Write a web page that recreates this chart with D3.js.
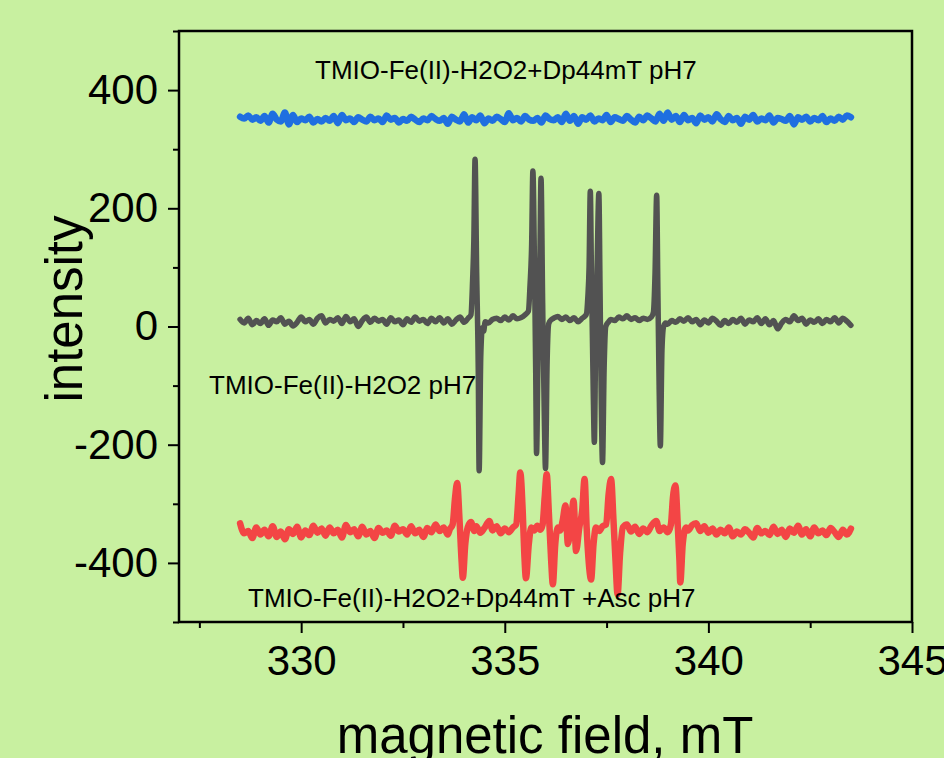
<!DOCTYPE html>
<html><head><meta charset="utf-8">
<script src="https://cdn.jsdelivr.net/npm/d3@7"></script>
<style>
html,body{margin:0;padding:0;background:#c8f0a0;}
svg{display:block;}
text{font-family:"Liberation Sans",Arial,sans-serif;fill:#000;}
</style></head><body>
<svg id="chart" width="944" height="758"></svg>
<script>
// ---- data ----
const xMajorTicks = [330, 335, 340, 345];
const xTickLabels = ["330", "335", "340", "345"];
const xMinorTicks = [327.5, 332.5, 337.5, 342.5];
const yMajorTicks = [-400, -200, 0, 200, 400];
const yTickLabels = ["-400", "-200", "0", "200", "400"];
const yMinorTicks = [-500, -300, -100, 100, 300, 500];

const seriesNames = ["TMIO-Fe(II)-H2O2+Dp44mT pH7", "TMIO-Fe(II)-H2O2 pH7", "TMIO-Fe(II)-H2O2+Dp44mT +Asc pH7"];

// [magnetic field mT, intensity]
const blueSeries = [
[328.5,355],[328.6,352],[328.7,357],[328.8,350],[328.9,354],[329.0,348],[329.1,356],[329.2,345],[329.3,360],[329.4,350],
[329.5,347],[329.6,362],[329.7,342],[329.8,358],[329.9,346],[330.0,352],[330.1,349],[330.2,355],[330.3,345],[330.4,351],
[330.5,347],[330.6,353],[330.7,348],[330.8,356],[330.9,344],[331.0,358],[331.1,349],[331.2,352],[331.3,346],[331.4,354],
[331.5,350],[331.6,347],[331.7,355],[331.8,349],[331.9,352],[332.0,346],[332.1,357],[332.2,350],[332.3,353],[332.4,345],
[332.5,351],[332.6,348],[332.7,355],[332.8,350],[332.9,346],[333.0,352],[333.1,349],[333.2,356],[333.3,351],[333.4,348],
[333.5,353],[333.6,343],[333.7,355],[333.8,350],[333.9,347],[334.0,359],[334.1,345],[334.2,354],[334.3,349],[334.4,357],
[334.5,344],[334.6,352],[334.7,348],[334.8,355],[334.9,351],[335.0,346],[335.1,361],[335.2,349],[335.3,353],[335.4,347],
[335.5,356],[335.6,350],[335.7,348],[335.8,353],[335.9,345],[336.0,357],[336.1,351],[336.2,349],[336.3,354],[336.4,346],
[336.5,360],[336.6,348],[336.7,356],[336.8,343],[336.9,354],[337.0,350],[337.1,357],[337.2,347],[337.3,352],[337.4,349],
[337.5,358],[337.6,346],[337.7,354],[337.8,351],[337.9,348],[338.0,356],[338.1,350],[338.2,345],[338.3,355],[338.4,349],
[338.5,357],[338.6,352],[338.7,347],[338.8,360],[338.9,348],[339.0,362],[339.1,350],[339.2,356],[339.3,346],[339.4,358],
[339.5,349],[339.6,353],[339.7,344],[339.8,357],[339.9,350],[340.0,354],[340.1,347],[340.2,359],[340.3,351],[340.4,346],
[340.5,356],[340.6,349],[340.7,353],[340.8,343],[340.9,355],[341.0,350],[341.1,358],[341.2,347],[341.3,352],[341.4,349],
[341.5,357],[341.6,345],[341.7,353],[341.8,351],[341.9,348],[342.0,356],[342.1,342],[342.2,354],[342.3,350],[342.4,355],
[342.5,347],[342.6,353],[342.7,349],[342.8,356],[342.9,346],[343.0,352],[343.1,348],[343.2,355],[343.3,350],[343.4,357],[343.5,354]
];

const graySeries = [
[328.5,12],[328.6,6],[328.7,14],[328.8,3],[328.9,10],[329.0,5],[329.1,13],[329.2,2],[329.3,11],[329.4,8],
[329.5,15],[329.6,4],[329.7,9],[329.8,1],[329.9,7],[330.0,16],[330.1,8],[330.2,12],[330.3,4],[330.4,14],
[330.5,18],[330.6,6],[330.7,12],[330.8,9],[330.9,15],[331.0,5],[331.1,17],[331.2,8],[331.3,13],[331.4,0],
[331.5,10],[331.6,16],[331.7,7],[331.8,14],[331.9,9],[332.0,12],[332.1,4],[332.2,15],[332.3,8],[332.4,11],
[332.5,3],[332.6,13],[332.7,7],[332.8,16],[332.9,9],[333.0,12],[333.1,5],[333.2,14],[333.3,8],[333.4,15],
[333.5,6],[333.6,13],[333.7,4],[333.8,11],[333.9,16],[334.0,7],[334.1,14],[334.17,20],[334.21,78],[334.24,146],
[334.27,283],[334.31,90],[334.35,-80],[334.37,-244],[334.41,-52],[334.45,-2],[334.48,-8],[334.52,8],[334.6,6],[334.7,12],
[334.8,14],[334.9,10],[335.0,16],[335.1,11],[335.2,18],[335.3,13],[335.4,15],[335.5,20],[335.58,26],[335.62,70],
[335.66,140],[335.69,263],[335.73,100],[335.76,-80],[335.78,-215],[335.82,-30],[335.86,100],[335.89,251],[335.93,40],[335.97,-150],
[336.0,-240],[336.04,-60],[336.08,5],[336.15,12],[336.2,14],[336.3,17],[336.4,12],[336.5,16],[336.6,10],[336.7,15],
[336.8,8],[336.9,14],[337.0,20],[337.04,50],[337.07,100],[337.10,229],[337.13,80],[337.17,-100],[337.20,-196],[337.23,-40],
[337.27,110],[337.31,225],[337.34,60],[337.37,-130],[337.40,-230],[337.44,-70],[337.48,0],[337.55,8],[337.6,12],[337.7,10],
[337.8,16],[337.9,13],[338.0,18],[338.1,12],[338.2,15],[338.3,10],[338.4,14],[338.5,12],[338.6,16],[338.65,24],
[338.69,90],[338.73,222],[338.76,60],[338.79,-100],[338.82,-202],[338.86,-40],[338.9,0],[338.95,6],[339.0,4],[339.1,10],
[339.2,7],[339.3,13],[339.4,9],[339.5,15],[339.6,8],[339.7,12],[339.8,3],[339.9,11],[340.0,6],[340.1,14],
[340.2,9],[340.3,2],[340.4,10],[340.5,5],[340.6,12],[340.7,7],[340.8,14],[340.9,4],[341.0,11],[341.1,8],
[341.2,15],[341.3,5],[341.4,13],[341.5,3],[341.6,10],[341.7,-4],[341.8,6],[341.9,12],[342.0,8],[342.1,18],
[342.2,10],[342.3,14],[342.4,4],[342.5,11],[342.6,7],[342.7,13],[342.8,5],[342.9,12],[343.0,8],[343.1,15],
[343.2,6],[343.3,14],[343.4,9],[343.5,2]
];

const redSeries = [
[328.5,-333],[328.6,-350],[328.7,-346],[328.8,-358],[328.9,-340],[329.0,-352],[329.1,-344],[329.2,-355],[329.3,-338],[329.4,-356],
[329.5,-347],[329.6,-360],[329.7,-343],[329.8,-351],[329.9,-339],[330.0,-357],[330.1,-345],[330.2,-353],[330.3,-337],[330.4,-349],
[330.5,-342],[330.6,-354],[330.7,-340],[330.8,-350],[330.9,-344],[331.0,-357],[331.1,-336],[331.2,-348],[331.3,-343],[331.4,-355],
[331.5,-339],[331.6,-352],[331.7,-346],[331.8,-358],[331.9,-341],[332.0,-349],[332.1,-345],[332.2,-354],[332.3,-337],[332.4,-347],
[332.5,-343],[332.6,-352],[332.7,-338],[332.8,-350],[332.9,-344],[333.0,-356],[333.1,-341],[333.2,-348],[333.3,-335],[333.4,-346],
[333.5,-340],[333.6,-352],[333.65,-343],[333.72,-335],[333.78,-289],[333.83,-265],[333.89,-329],[333.94,-397],[333.97,-425],[334.03,-368],
[334.09,-340],[334.17,-331],[334.25,-346],[334.3,-338],[334.4,-349],[334.5,-341],[334.62,-329],[334.7,-345],[334.8,-338],[334.9,-350],
[335.0,-342],[335.1,-348],[335.2,-340],[335.28,-335],[335.34,-284],[335.38,-247],[335.44,-312],[335.48,-385],[335.52,-426],[335.59,-368],
[335.65,-340],[335.72,-345],[335.8,-337],[335.87,-344],[335.93,-335],[335.98,-289],[336.03,-250],[336.08,-312],[336.14,-397],[336.18,-436],
[336.24,-368],[336.30,-340],[336.36,-345],[336.42,-329],[336.49,-303],[336.55,-368],[336.62,-335],[336.69,-295],[336.75,-380],[336.83,-340],
[336.90,-312],[336.96,-258],[337.01,-340],[337.06,-397],[337.12,-428],[337.18,-368],[337.24,-340],[337.32,-346],[337.4,-338],[337.49,-335],
[337.55,-284],[337.61,-258],[337.67,-329],[337.72,-397],[337.77,-453],[337.83,-385],[337.90,-340],[338.0,-335],[338.1,-347],[338.2,-339],
[338.3,-351],[338.4,-342],[338.5,-348],[338.6,-337],[338.72,-329],[338.8,-346],[338.9,-340],[339.0,-348],[339.08,-335],[339.13,-289],
[339.19,-269],[339.25,-340],[339.29,-397],[339.31,-433],[339.37,-368],[339.45,-340],[339.5,-345],[339.6,-336],[339.7,-333],[339.8,-346],
[339.9,-338],[340.0,-349],[340.1,-342],[340.2,-352],[340.3,-344],[340.4,-350],[340.5,-340],[340.6,-355],[340.7,-347],[340.8,-352],
[340.9,-343],[341.0,-349],[341.1,-357],[341.2,-341],[341.3,-350],[341.4,-346],[341.5,-353],[341.6,-339],[341.7,-351],[341.8,-344],
[341.9,-356],[342.0,-342],[342.1,-349],[342.2,-337],[342.3,-352],[342.4,-343],[342.5,-355],[342.6,-340],[342.7,-350],[342.8,-345],
[342.9,-353],[343.0,-341],[343.1,-348],[343.2,-356],[343.3,-344],[343.4,-352],[343.5,-342]
];

// ---- drawing ----
const svg = d3.select("#chart");
const W = 944, H = 758;
const plot = {left: 179, right: 912, top: 31, bottom: 622};
svg.append("rect").attr("width", W).attr("height", H).attr("fill", "#c8f0a0");

const x = d3.scaleLinear().domain([327, 345]).range([plot.left, plot.right]);
const y = d3.scaleLinear().domain([-500, 500]).range([plot.bottom, plot.top]);

const line = d3.line().x(d => x(d[0])).y(d => y(d[1])).curve(d3.curveMonotoneX);

const seriesList = [
  {data: blueSeries, color: "#1f6fe0", width: 6.5},
  {data: graySeries, color: "#525252", width: 5.5},
  {data: redSeries, color: "#f34545", width: 6.5}
];
seriesList.forEach(s => {
  svg.append("path").datum(s.data).attr("d", line)
    .attr("fill", "none").attr("stroke", s.color).attr("stroke-width", s.width)
    .attr("stroke-linejoin", "round").attr("stroke-linecap", "round");
});

// frame
svg.append("rect").attr("x", plot.left).attr("y", plot.top)
  .attr("width", plot.right - plot.left).attr("height", plot.bottom - plot.top)
  .attr("fill", "none").attr("stroke", "#000").attr("stroke-width", 2.5);

function styleAxis(g) {
  g.select(".domain").remove();
  g.selectAll(".tick line").attr("stroke", "#000").attr("stroke-width", 2);
  g.selectAll(".tick text").attr("font-size", 42).attr("fill", "#000")
    .style("font-family", '"Liberation Sans", Arial, sans-serif');
}

// y axis
svg.append("g").attr("transform", `translate(${plot.left},0)`)
  .call(d3.axisLeft(y).tickValues(yMajorTicks).tickSize(11).tickPadding(10)
    .tickFormat((d, i) => yTickLabels[i]))
  .call(styleAxis);
svg.append("g").attr("transform", `translate(${plot.left},0)`)
  .call(d3.axisLeft(y).tickValues(yMinorTicks).tickSize(6).tickFormat(""))
  .call(styleAxis);

// x axis
svg.append("g").attr("transform", `translate(0,${plot.bottom})`)
  .call(d3.axisBottom(x).tickValues(xMajorTicks).tickSize(11).tickPadding(12)
    .tickFormat((d, i) => xTickLabels[i]))
  .call(styleAxis);
svg.append("g").attr("transform", `translate(0,${plot.bottom})`)
  .call(d3.axisBottom(x).tickValues(xMinorTicks).tickSize(6).tickFormat(""))
  .call(styleAxis);

// axis titles
svg.append("text").attr("x", 545).attr("y", 753).attr("text-anchor", "middle")
  .attr("font-size", 51).text("magnetic field, mT");
svg.append("text").attr("transform", "translate(82,309) rotate(-90)").attr("text-anchor", "middle")
  .attr("font-size", 51).text("intensity");

// annotations
const notes = [
  {t: seriesNames[0], x: 315, y: 79},
  {t: seriesNames[1], x: 209, y: 394},
  {t: seriesNames[2], x: 248, y: 607}
];
notes.forEach(n => svg.append("text").attr("x", n.x).attr("y", n.y).attr("font-size", 26).text(n.t));
</script>
</body></html>
